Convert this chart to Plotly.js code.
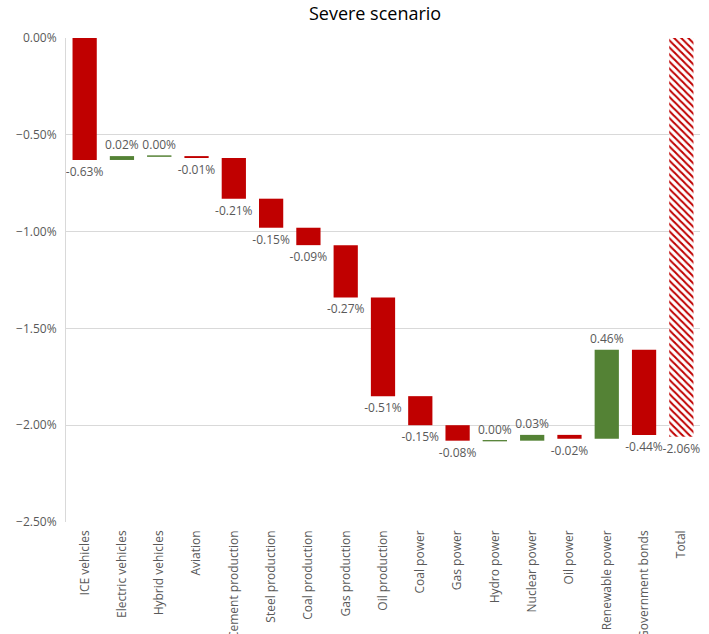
<!DOCTYPE html>
<html>
<head>
<meta charset="utf-8">
<script src="https://cdn.plot.ly/plotly-3.0.1.min.js"></script>
<style>html,body{margin:0;padding:0;background:#fff;}#chart{width:709px;height:634px;}</style>
</head>
<body>
<div id="chart"></div>
<script>
const categories = ["ICE vehicles","Electric vehicles","Hybrid vehicles","Aviation","Cement production","Steel production","Coal production","Gas production","Oil production","Coal power","Gas power","Hydro power","Nuclear power","Oil power","Renewable power","Government bonds"];
const changes = [-0.63, 0.02, 0.00, -0.01, -0.21, -0.15, -0.09, -0.27, -0.51, -0.15, -0.08, 0.00, 0.03, -0.02, 0.46, -0.44];
const totalLabel = "Total";
const totalValue = -2.06;

const RED = "#C00000", GREEN = "#548235";
let bases = [], cum = 0;
changes.forEach(v => { bases.push(cum / 100); cum += v; });
const pct = v => (v < 0 ? "-" : "") + Math.abs(v).toFixed(2) + "%";
const FONT = "Open Sans, sans-serif";

const steps = {
  type: "bar",
  x: categories,
  y: changes.map(v => v / 100),
  base: bases,
  width: 0.65,
  marker: {
    color: changes.map(v => v >= 0 ? GREEN : RED),
    line: {color: changes.map(v => v >= 0 ? GREEN : RED), width: changes.map(v => v === 0 ? 1 : 0)}
  },
  text: changes.map(pct),
  textposition: "outside",
  constraintext: "none",
  textfont: {family: FONT, size: 12, color: "#595959"},
  cliponaxis: false,
  hoverinfo: "x+text"
};
const total = {
  type: "bar",
  x: [totalLabel],
  y: [totalValue / 100],
  base: [0],
  width: 0.65,
  marker: {color: "white", pattern: {shape: "\\", fgcolor: RED, bgcolor: "white", size: 5, solidity: 0.4}, line: {width: 0}},
  text: [pct(totalValue)],
  textposition: "outside",
  constraintext: "none",
  textfont: {family: FONT, size: 12, color: "#595959"},
  cliponaxis: false
};

const layout = {
  width: 709, height: 634,
  margin: {l: 66, r: 9, t: 38, b: 112},
  showlegend: false,
  barmode: "overlay",
  paper_bgcolor: "white", plot_bgcolor: "white",
  font: {family: FONT, color: "#595959", size: 12},
  title: {text: "Severe scenario", x: 0.529, xref: "container", y: 0.978, yanchor: "middle", font: {size: 18, color: "#000", family: FONT}},
  xaxis: {
    type: "category", categoryarray: categories.concat([totalLabel]), categoryorder: "array",
    tickangle: -90, showgrid: false, zeroline: false, showline: false, ticks: "",
    ticklabelstandoff: 5,
    tickfont: {size: 12, color: "#595959"}, automargin: false
  },
  yaxis: {
    range: [-0.025, 0], dtick: 0.005, tickformat: ".2%",
    showgrid: true, gridcolor: "#D9D9D9", gridwidth: 1,
    zeroline: false, showline: true, linecolor: "#D9D9D9", ticks: "",
    ticklabelstandoff: 6,
    tickfont: {size: 12, color: "#595959"}, automargin: false
  }
};
Plotly.newPlot("chart", [steps, total], layout, {displayModeBar: false, staticPlot: true});
</script>
</body>
</html>
